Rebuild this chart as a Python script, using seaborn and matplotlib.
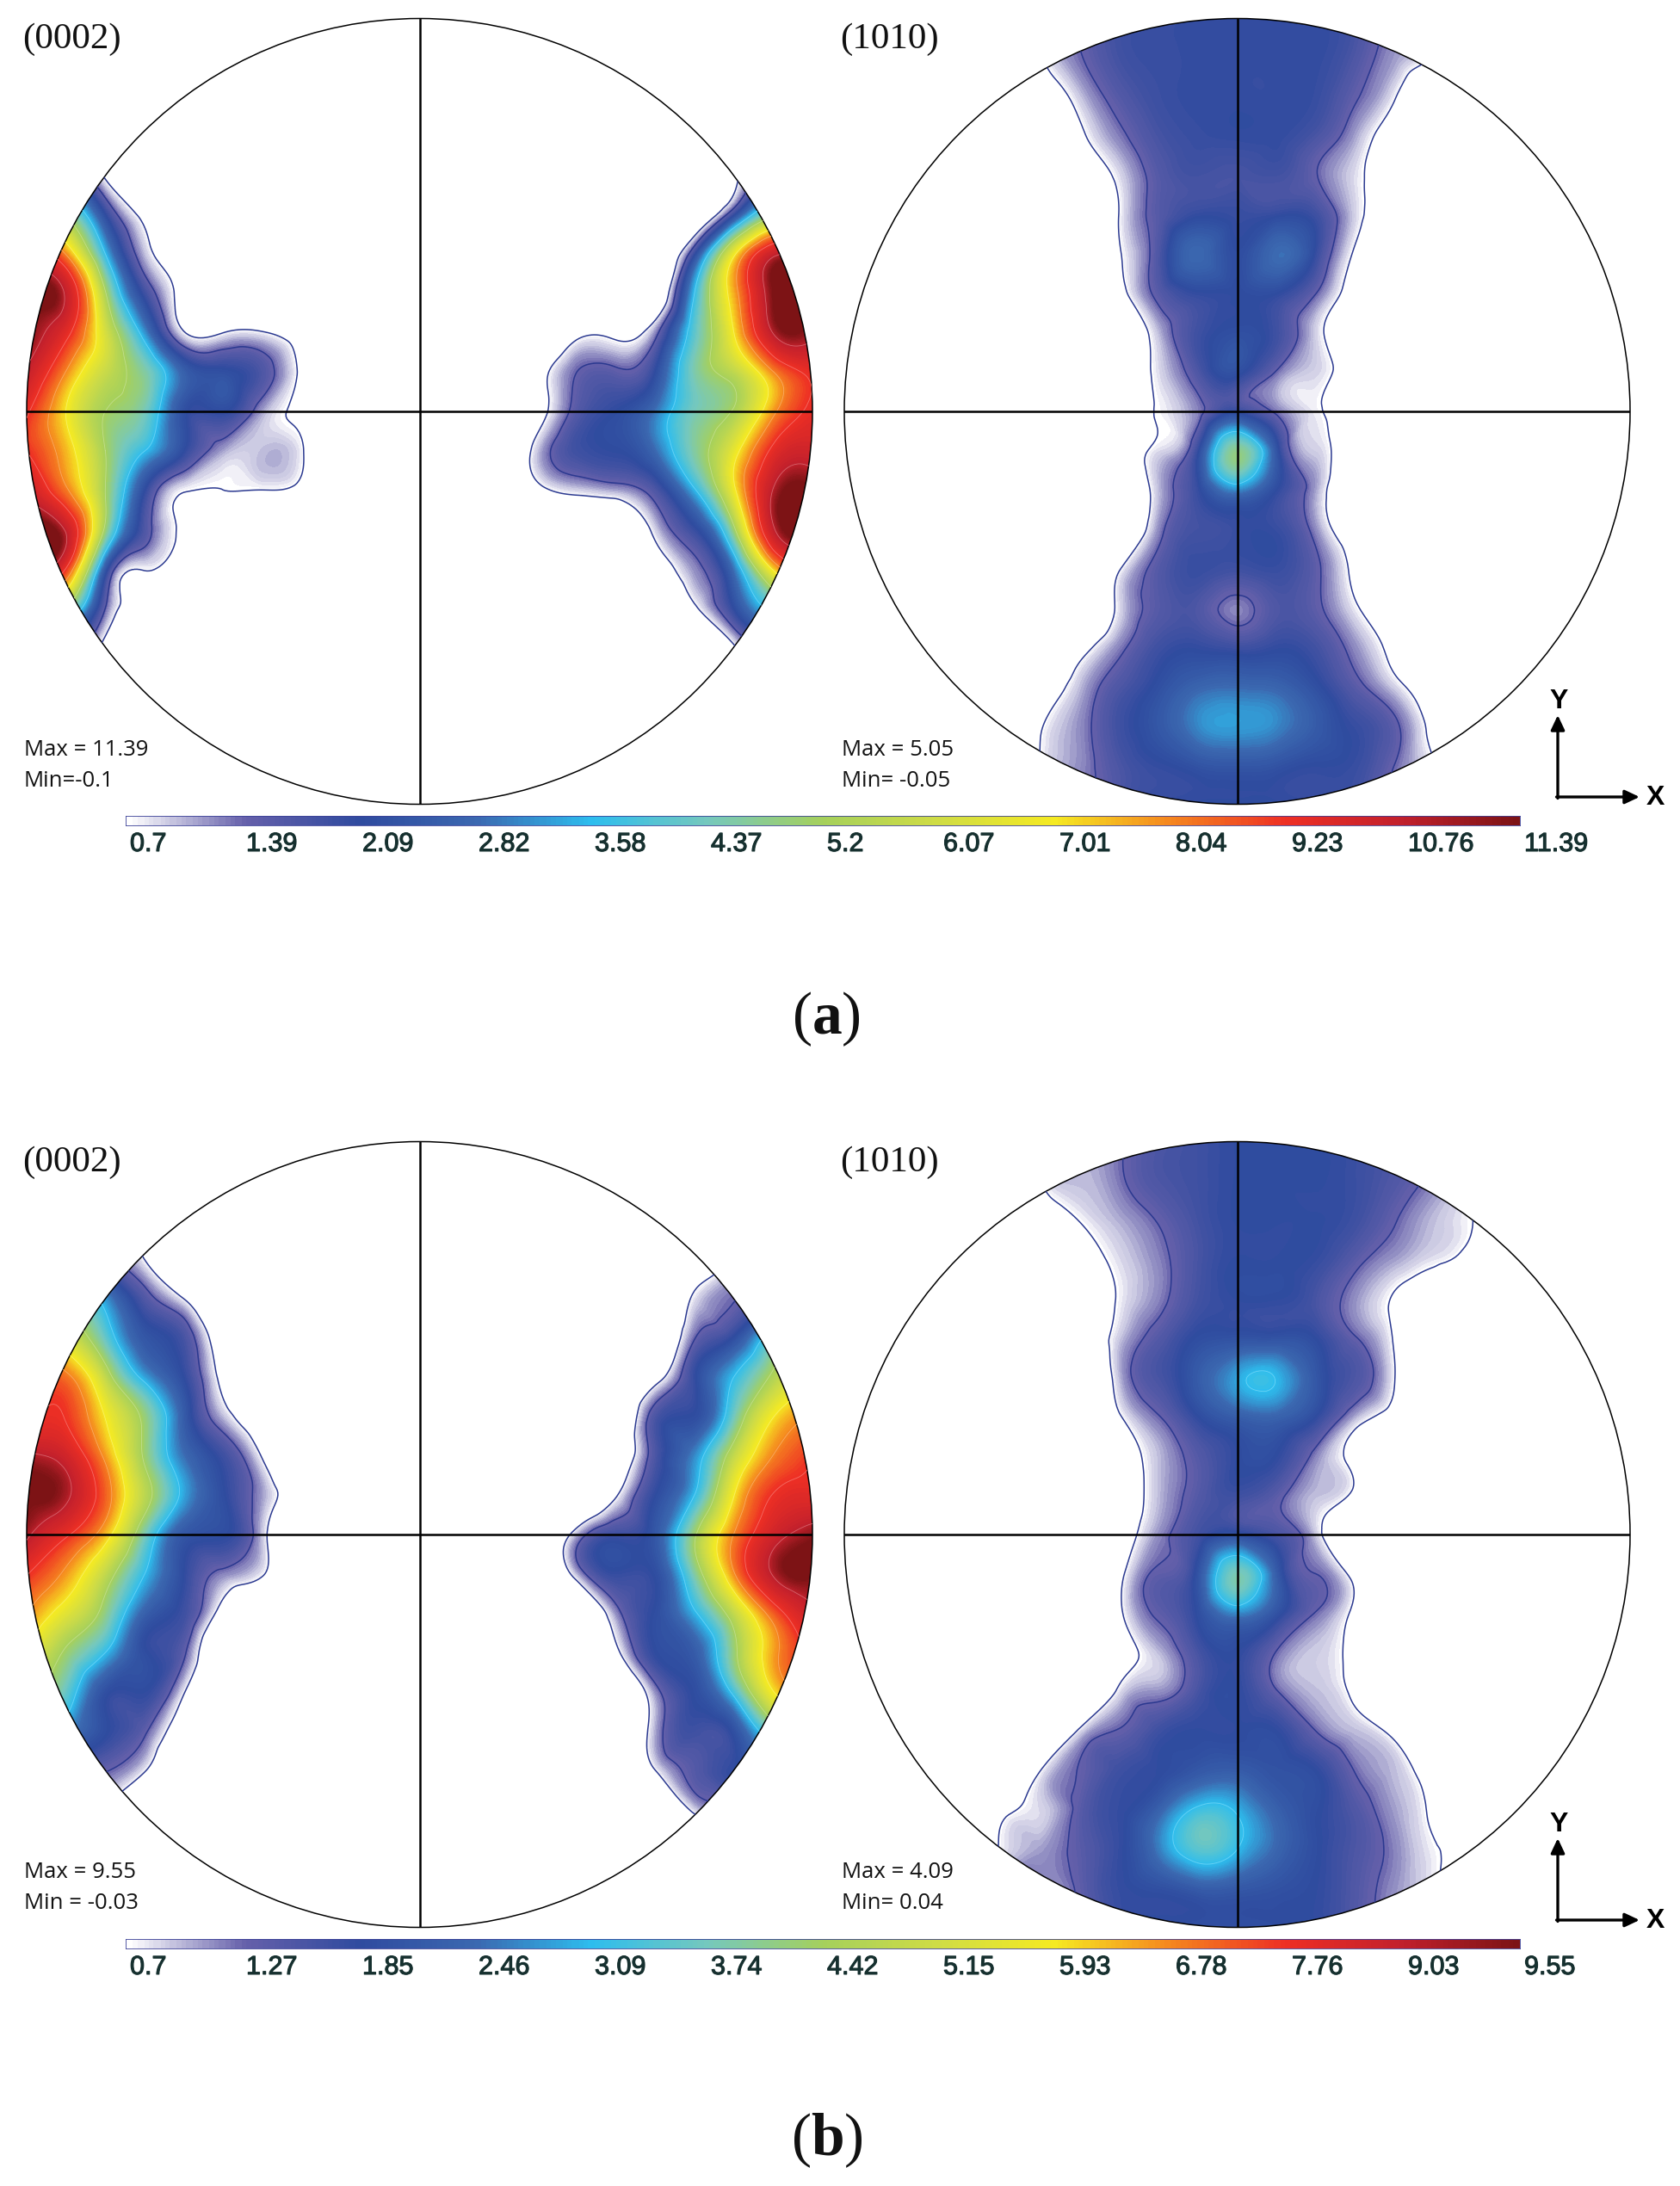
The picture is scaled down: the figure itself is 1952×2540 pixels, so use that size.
import numpy as np
import matplotlib
matplotlib.use("Agg")
import matplotlib.pyplot as plt
import matplotlib.tri as mtri
import matplotlib.patheffects as pe
from matplotlib.patches import Circle
from matplotlib.transforms import ScaledTranslation
import seaborn as sns

W, H = 1952, 2540

LEVELS_A = [0.7, 1.39, 2.09, 2.82, 3.58, 4.37, 5.2, 6.07, 7.01, 8.04, 9.23, 10.76, 11.39]
LEVELS_B = [0.7, 1.27, 1.85, 2.46, 3.09, 3.74, 4.42, 5.15, 5.93, 6.78, 7.76, 9.03, 9.55]
BAR_COLORS = ["#ffffff", "#6560aa", "#2f4b9f", "#3b68b0", "#2dbdee", "#75c8bd", "#a5d05c",
              "#cfdc45", "#f5ea22", "#f5871f", "#ee2f24", "#c2202c", "#7d1315"]

GRID_X = [-1.0, -0.9, -0.8, -0.7, -0.6, -0.5, -0.4, -0.3, -0.2, -0.1, 0.0, 0.1, 0.2, 0.3, 0.4, 0.5, 0.6, 0.7, 0.8, 0.9, 1.0]
GRID_Y = [1.0, 0.9, 0.8, 0.7, 0.6, 0.5, 0.4, 0.3, 0.2, 0.1, 0.0, -0.1, -0.2, -0.3, -0.4, -0.5, -0.6, -0.7, -0.8, -0.9, -1.0]

A_0002 = [
 [0,0,0,0,0,0,0,0,0,0,0,0,0,0,0,0,0,0,0,0,0],
 [0,0,0,0,0,0,0,0,0,0,0,0,0,0,0,0,0,0,0,0,0],
 [0,0,0,0,0,0,0,0,0,0,0,0,0,0,0,0,0,0,0,0,0],
 [0,0,0,0,0,0,0,0,0,0,0,0,0,0,0,0,0,0,0,0,0],
 [3,2.0,.6,0,0,0,0,0,0,0,0,0,0,0,0,0,0,0,.5,2.0,3],
 [6,5,2.1,.5,0,0,0,0,0,0,0,0,0,0,0,0,0,0,2.0,5,6],
 [10.8,8,3.6,1.0,.1,0,0,0,0,0,0,0,0,0,0,0,0,2.0,6.8,10.5,11],
 [11.4,10.6,5.3,1.9,.4,0,0,0,0,0,0,0,0,0,0,0,0,3.6,7.6,11.4,11.39],
 [11.4,9.6,6.2,3.2,.75,.7,.75,.3,0,0,0,0,0,0,.5,.55,1.2,4.1,7,10.8,11],
 [10.6,8,5.9,4.6,2.6,2.2,1.7,.55,0,0,0,0,0,.4,1.39,1.5,2.1,4.5,5.7,8,9.5],
 [9.4,7,5.2,4.4,2.2,2.1,1.1,.5,0,0,0,0,0,.4,1.6,2.1,2.9,4.4,5.3,7.8,9.5],
 [9.2,7.5,5.2,3.6,2.1,1.1,1.0,.75,0,0,0,0,0,.95,1.9,2.1,2.8,4.6,6.6,9.5,10.2],
 [10.6,8.2,5.2,2.1,.75,.7,.7,.5,0,0,0,0,0,.5,.9,1.1,1.7,3.5,6.8,10.8,11.4],
 [11.4,10.6,5,1.7,.55,.1,0,0,0,0,0,0,0,0,0,0,.9,2,5,10.6,11.39],
 [10.8,9.2,2.4,.75,.1,0,0,0,0,0,0,0,0,0,0,0,.2,1.2,2.9,7.2,10],
 [6,5,1.4,.3,0,0,0,0,0,0,0,0,0,0,0,0,0,.6,2.1,3.9,5],
 [3,2,.45,0,0,0,0,0,0,0,0,0,0,0,0,0,0,0,.6,2,3],
 [0,0,0,0,0,0,0,0,0,0,0,0,0,0,0,0,0,0,0,0,0],
 [0,0,0,0,0,0,0,0,0,0,0,0,0,0,0,0,0,0,0,0,0],
 [0,0,0,0,0,0,0,0,0,0,0,0,0,0,0,0,0,0,0,0,0],
 [0,0,0,0,0,0,0,0,0,0,0,0,0,0,0,0,0,0,0,0,0],
]

A_1010 = [
 [0,0,0,0,0,.65,1.35,1.85,2,2.05,2.05,2.05,2.05,1.8,1.2,.7,.1,0,0,0,0],
 [0,0,0,0,0,.65,1.35,1.85,2,2.05,2.05,2.05,2.05,1.7,1.14,.7,.1,0,0,0,0],
 [0,0,0,0,0,.1,.95,1.6,1.95,2.05,2.05,2.05,2,1.45,.75,0,0,0,0,0,0],
 [0,0,0,0,0,0,.55,1.27,1.8,2,2.05,2.05,1.75,1.1,.3,0,0,0,0,0,0],
 [0,0,0,0,0,0,.1,.85,1.6,1.85,1.8,1.85,1.42,.85,.2,0,0,0,0,0,0],
 [0,0,0,0,0,0,0,.72,1.6,2.05,2,2.05,1.9,.9,.2,0,0,0,0,0,0],
 [0,0,0,0,0,0,0,.65,1.7,2.8,2.15,2.85,2,.6,0,0,0,0,0,0,0],
 [0,0,0,0,0,0,0,.45,1.55,2.05,2.1,2.1,1.4,.3,0,0,0,0,0,0,0],
 [0,0,0,0,0,0,0,.05,1,1.9,2.2,1.9,.9,.15,0,0,0,0,0,0,0],
 [0,0,0,0,0,0,0,.05,.85,1.7,2.2,1.35,.9,.2,0,0,0,0,0,0,0],
 [0,0,0,0,0,0,0,.05,.74,1.25,2,1.3,.78,.05,0,0,0,0,0,0,0],
 [0,0,0,0,0,0,0,.05,.85,2,4.8,2.3,.92,.05,0,0,0,0,0,0,0],
 [0,0,0,0,0,0,0,0,1,2,3.1,2.1,1.1,0,0,0,0,0,0,0,0],
 [0,0,0,0,0,0,0,0,1.2,1.85,2,2,1.2,.1,0,0,0,0,0,0,0],
 [0,0,0,0,0,0,0,.65,1.6,2,1.9,2,1.5,.5,0,0,0,0,0,0,0],
 [0,0,0,0,0,0,0,.85,1.6,1.7,1.25,1.7,1.5,.78,.1,0,0,0,0,0,0],
 [0,0,0,0,0,0,.4,1.25,1.9,2.05,1.9,2.05,1.85,1.2,.45,0,0,0,0,0,0],
 [0,0,0,0,0,.2,1,1.7,2.2,2.7,2.8,2.7,2.2,1.55,.9,.2,0,0,0,0,0],
 [0,0,0,0,0,.65,1.2,1.9,2.4,3.1,3.3,3.1,2.5,2,1.5,.45,0,0,0,0,0],
 [0,0,0,0,0,.75,1.2,1.75,2.05,2.3,2.4,2.3,2.1,2,1.39,.75,.1,0,0,0,0],
 [0,0,0,0,0,.75,1.2,1.75,2.05,2.1,2.1,2.1,2.05,1.9,1.3,.75,.1,0,0,0,0],
]

B_0002 = [
 [0,0,0,0,0,0,0,0,0,0,0,0,0,0,0,0,0,0,0,0,0],
 [0,0,0,0,0,0,0,0,0,0,0,0,0,0,0,0,0,0,0,0,0],
 [0,0,1,.2,0,0,0,0,0,0,0,0,0,0,0,0,0,0,0,0,0],
 [0,2,1.6,.7,0,0,0,0,0,0,0,0,0,0,0,0,0,.2,.75,1.3,0],
 [4.5,4,2.8,1.5,.7,0,0,0,0,0,0,0,0,0,0,0,0,.8,1.25,2,3],
 [6,5.3,3.6,2.1,1.6,.2,0,0,0,0,0,0,0,0,0,0,0,1.25,1.9,3.6,4.4],
 [7,7,4.9,2.9,1.85,.5,0,0,0,0,0,0,0,0,0,0,.4,1.8,3.1,4.6,5.9],
 [7.5,7.7,5.9,4.2,2.2,.95,.1,0,0,0,0,0,0,0,0,0,1.55,1.9,3.7,5.9,6.8],
 [9.2,8.6,6.6,4.3,2.5,1.7,.65,0,0,0,0,0,0,0,0,.1,1.55,2.7,4.9,6.8,7.7],
 [9.55,9.2,7.2,4.8,2.9,1.9,1.05,.2,0,0,0,0,0,0,0,.65,1.85,3.1,5.9,7.8,8.1],
 [9.2,7.9,6.3,3.8,2.1,1.9,.9,0,0,0,0,0,0,0,.95,1.7,2.1,4.3,6.8,8.6,9.4],
 [7.8,6.6,4.9,3.1,1.85,1.15,.75,0,0,0,0,0,0,0,.95,1.8,1.9,3.9,6.7,9.1,9.55],
 [6.8,5.5,4.1,2.3,1.7,.4,0,0,0,0,0,0,0,0,0,1.1,1.9,3,4.9,7.2,8.8],
 [5.8,4.3,3.1,1.9,1.35,0,0,0,0,0,0,0,0,0,0,.55,1.85,2.2,4.2,6.5,8],
 [4.5,3.6,1.95,1.85,.75,0,0,0,0,0,0,0,0,0,0,0,1.1,1.9,3.3,5.9,6.8],
 [3.5,2.7,1.9,1.35,.2,0,0,0,0,0,0,0,0,0,0,0,1,1.7,1.95,3.8,4.6],
 [2.5,1.8,1.3,.75,0,0,0,0,0,0,0,0,0,0,0,0,.7,1.45,1.85,2.2,3],
 [0,1,.7,0,0,0,0,0,0,0,0,0,0,0,0,0,0,.85,1.3,1.5,0],
 [0,0,0,0,0,0,0,0,0,0,0,0,0,0,0,0,0,0,.5,0,0],
 [0,0,0,0,0,0,0,0,0,0,0,0,0,0,0,0,0,0,0,0,0],
 [0,0,0,0,0,0,0,0,0,0,0,0,0,0,0,0,0,0,0,0,0],
]

B_1010 = [
 [0,0,0,0,0,.7,.95,1.2,1.55,1.7,1.85,1.85,1.85,1.75,1.5,1.15,.75,.3,0,0,0],
 [0,0,0,0,0,.7,.95,1.2,1.55,1.7,1.85,1.85,1.85,1.75,1.5,1.15,.75,.3,0,0,0],
 [0,0,0,0,0,.2,.72,1.0,1.3,1.65,1.85,1.85,1.85,1.7,1.3,.95,.7,.2,0,0,0],
 [0,0,0,0,0,0,.3,.83,1.15,1.6,1.85,1.85,1.8,1.4,1.05,.8,.4,0,0,0,0],
 [0,0,0,0,0,0,.1,.75,1.15,1.65,1.85,1.85,1.6,1.1,.65,.1,0,0,0,0,0],
 [0,0,0,0,0,0,.1,.9,1.45,1.9,2,2,1.85,1.3,.65,0,0,0,0,0,0],
 [0,0,0,0,0,0,0,.95,1.6,2.2,2.9,3.05,2.1,1.55,.72,0,0,0,0,0,0],
 [0,0,0,0,0,0,0,.65,1.25,1.85,2.25,2.35,1.85,1,.4,0,0,0,0,0,0],
 [0,0,0,0,0,0,0,.3,.95,1.45,1.85,1.85,1.15,.45,0,0,0,0,0,0,0],
 [0,0,0,0,0,0,0,.2,.95,1.45,1.7,1.4,.95,.55,0,0,0,0,0,0,0],
 [0,0,0,0,0,0,0,.3,1.1,1.65,1.95,1.6,.9,0,0,0,0,0,0,0,0],
 [0,0,0,0,0,0,0,.55,1.35,2,3.8,2.2,1.27,.45,0,0,0,0,0,0,0],
 [0,0,0,0,0,0,0,.6,1.35,1.9,2.7,2,1.25,.55,0,0,0,0,0,0,0],
 [0,0,0,0,0,0,0,.4,.95,1.6,1.85,1.25,.9,.5,0,0,0,0,0,0,0],
 [0,0,0,0,0,0,0,.8,1.1,1.6,1.85,1.3,.95,.55,0,0,0,0,0,0,0],
 [0,0,0,0,0,0,.8,1.3,1.7,1.85,1.85,1.85,1.27,.95,.5,0,0,0,0,0,0],
 [0,0,0,0,0,.7,1.3,1.7,1.85,2.1,2.2,2,1.85,1.25,.95,.3,0,0,0,0,0],
 [0,0,0,0,.5,.85,1.4,1.8,2.3,3.2,3,2.3,1.9,1.5,1.05,.55,0,0,0,0,0],
 [0,0,0,.05,.75,1.05,1.4,1.8,2.6,3.5,3.1,2.4,1.9,1.55,1.15,.75,.3,0,0,0,0],
 [0,0,0,0,.9,1.1,1.35,1.8,1.95,2.2,2.15,2,1.85,1.5,1.1,.75,.2,0,0,0,0],
 [0,0,0,0,.9,1.1,1.35,1.8,1.95,1.95,1.95,1.9,1.85,1.5,1.1,.75,.2,0,0,0,0],
]

PANELS = [
    (A_0002, LEVELS_A, 487.5, 478, "(0002)", "Max = 11.39", "Min=-0.1"),
    (A_1010, LEVELS_A, 1437.5, 478, "(1010)", "Max = 5.05", "Min= -0.05"),
    (B_0002, LEVELS_B, 487.5, 1783, "(0002)", "Max = 9.55", "Min = -0.03"),
    (B_1010, LEVELS_B, 1437.5, 1783, "(1010)", "Max = 4.09", "Min= 0.04"),
]
RADIUS = 456.5

sns.set_theme(style="white")
plt.rcParams["mathtext.fontset"] = "custom"
plt.rcParams["mathtext.bf"] = "Liberation Serif:bold"
plt.rcParams["mathtext.rm"] = "Liberation Serif"

cmap = sns.blend_palette(BAR_COLORS, n_colors=600, as_cmap=True)
fig = plt.figure(figsize=(W / 100, H / 100), dpi=100, facecolor="white")


def px_axes(x0, y0, x1, y1):
    return fig.add_axes([x0 / W, 1 - y1 / H, (x1 - x0) / W, (y1 - y0) / H])


def relax_blank(a):
    """Cells read as blank (below the lowest level, drawn white) slope gently below zero,
    so the lowest iso-line does not kink on the flat blank plateau."""
    a = np.array(a, dtype=float)
    rows, cols = np.nonzero(a)
    out = a.copy()
    for r, c in zip(*np.nonzero(a == 0)):
        d = np.hypot(rows - r, cols - c).min()
        out[r, c] = -0.35 * min(d, 3)
    return out


overlay = px_axes(0, 0, W, H)
overlay.set_xlim(0, W)
overlay.set_ylim(H, 0)
overlay.axis("off")
overlay.set_zorder(5)
overlay.patch.set_alpha(0)

X, Y = np.meshgrid(GRID_X, GRID_Y)
triang = mtri.Triangulation(X.ravel(), Y.ravel())
refiner = mtri.UniformTriRefiner(triang)
steps = np.arange(13) / 12

for grid, levels, cx, cy, title, mx, mn in PANELS:
    ax = px_axes(cx - RADIUS, cy - RADIUS, cx + RADIUS, cy + RADIUS)
    ax.set_xlim(-1, 1)
    ax.set_ylim(-1, 1)
    ax.axis("off")
    z = relax_blank(grid).ravel()
    interp = mtri.CubicTriInterpolator(triang, z, kind="min_E")
    tri_f, z_f = refiner.refine_field(z, triinterpolator=interp, subdiv=4)
    t_f = np.interp(z_f, levels, steps)
    clip = Circle((0, 0), 1, transform=ax.transData)
    cf = ax.tricontourf(tri_f, t_f, levels=np.linspace(0, 1.001, 146), cmap=cmap, vmin=0, vmax=1)
    cf.set_clip_path(clip)
    # outer two iso-lines are dark blue, the higher ones pale tints of the band colour
    cs = ax.tricontour(tri_f, z_f, levels=levels[:2], colors="#2b3990", linewidths=1.1)
    cs.set_clip_path(clip)
    picked = (4, 6, 8, 9, 10, 11)
    tints = []
    for k in picked:
        c = np.array(matplotlib.colors.to_rgb(BAR_COLORS[k]))
        tints.append(tuple(c + (1 - c) * 0.3))
    cu = ax.tricontour(tri_f, z_f, levels=[levels[k] for k in picked], colors=tints, linewidths=0.6)
    cu.set_clip_path(clip)
    ax.add_patch(Circle((0, 0), 1, fill=False, edgecolor="black", lw=1.1, clip_on=False))
    ax.axhline(0, color="black", lw=1.8)
    ax.axvline(0, color="black", lw=1.8)
    left = cx - 461
    overlay.text(left, cy - 432, title, family="Liberation Serif", fontsize=31, color="#111111",
                 va="center", ha="left")
    overlay.text(left + 1, cy + 393, mx, family="Open Sans", fontsize=18.5, color="#111111", va="center", ha="left")
    overlay.text(left + 1, cy + 429, mn, family="Open Sans", fontsize=18.5, color="#111111", va="center", ha="left")

# colour strips: twelve equal segments, value labels at the segment starts
for levels, ytop in ((LEVELS_A, 948), (LEVELS_B, 2253)):
    bar = px_axes(146, ytop, 1766, ytop + 11)
    n = 600
    sns.heatmap(np.linspace(0, 1, n)[None, :], cmap=cmap, vmin=0, vmax=1, cbar=False,
                xticklabels=False, yticklabels=False, ax=bar)
    bar.set_xticks(steps * n)
    bar.set_xticklabels([str(v) for v in levels], family="Liberation Sans", fontsize=22,
                        color="#16302f", ha="left")
    bar.tick_params(axis="x", length=0, pad=5)
    shift = ScaledTranslation(5 / 100, 0, fig.dpi_scale_trans)
    for lab in bar.get_xticklabels():
        lab.set_transform(lab.get_transform() + shift)
        lab.set_path_effects([pe.withStroke(linewidth=0.8, foreground="#16302f")])
    bar.set_yticks([])
    for s in bar.spines.values():
        s.set_visible(True)
        s.set_color("#3a3f96")
        s.set_linewidth(0.6)

# X / Y axis key and the panel letters
for oy in (926, 2231):
    overlay.annotate("", xy=(1810, oy - 95), xytext=(1810, oy + 1.5),
                     arrowprops=dict(arrowstyle="-|>,head_width=0.4,head_length=0.85", lw=2.4, color="black",
                                     shrinkA=0, shrinkB=0))
    overlay.annotate("", xy=(1905, oy), xytext=(1808.5, oy),
                     arrowprops=dict(arrowstyle="-|>,head_width=0.4,head_length=0.85", lw=2.4, color="black",
                                     shrinkA=0, shrinkB=0))
    overlay.text(1811, oy - 111, "Y", family="Liberation Sans", weight="bold", fontsize=23, ha="center", va="center", color="black")
    overlay.text(1923, oy + 1, "X", family="Liberation Sans", weight="bold", fontsize=23, ha="center", va="center", color="black")

overlay.text(960, 1184, r"($\mathbf{a}$)", family="Liberation Serif", fontsize=50, ha="center", va="center", color="#111111")
overlay.text(961, 2487, r"($\mathbf{b}$)", family="Liberation Serif", fontsize=50, ha="center", va="center", color="#111111")

fig.savefig("out.png", dpi=100, facecolor="white")
